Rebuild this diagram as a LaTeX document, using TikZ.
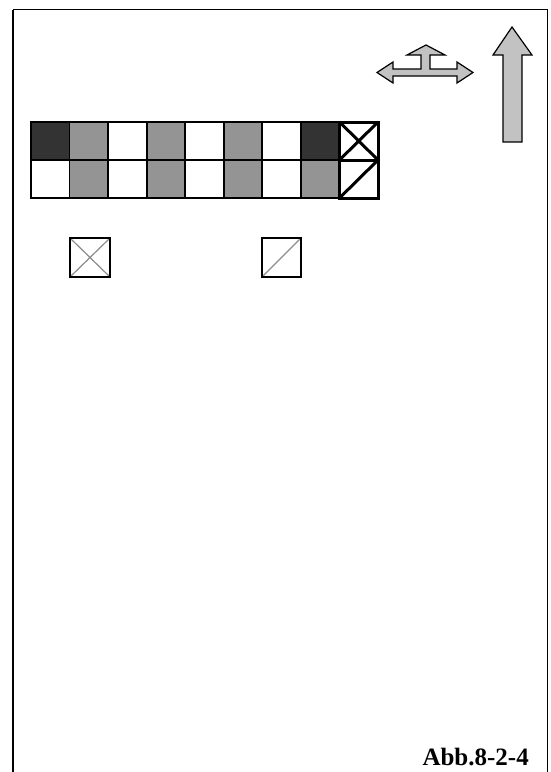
\documentclass[tikz,border=0pt]{standalone}
\usepackage{fontspec}
\setmainfont{Liberation Serif}
\begin{document}
\begin{tikzpicture}[x=1pt,y=-1pt,
  cell/.style={draw=black,line width=1.8pt},
  dk/.style={cell,fill=black!80},
  gr/.style={cell,fill=black!42},
  wh/.style={cell,fill=white},
  arr/.style={draw=black,line width=1.2pt,fill=black!24,line join=miter},
  thickbox/.style={draw=black,line width=3pt},
  smallbox/.style={draw=black,line width=1.5pt},
  diag/.style={draw=black!45,line width=1.2pt}]
\useasboundingbox (0,0) rectangle (551,772);
\fill[white] (0,0) rectangle (551,772);
% frame
\draw[line width=1pt] (13,772) -- (13,9.5) -- (547,9.5) -- (547,772);
\draw[line width=2pt] (13,772) -- (13,9.5);
% grid
\def\cw{38.55}
\foreach \i/\ta/\tb in {0/dk/wh,1/gr/gr,2/wh/wh,3/gr/gr,4/wh/wh,5/gr/gr,6/wh/wh,7/dk/gr}{
  \path[\ta] (31+\i*\cw,122) rectangle (31+\i*\cw+\cw,160);
  \path[\tb] (31+\i*\cw,160) rectangle (31+\i*\cw+\cw,198);
}
\coordinate (xa) at (339.5,122);
\coordinate (xb) at (378,160);
\coordinate (xc) at (339.5,160);
\coordinate (xd) at (378,122);
\coordinate (ya) at (339.5,198);
\coordinate (yb) at (378,160);
\draw[thickbox,fill=white] (xa) rectangle (378,198);
\draw[thickbox] (xc) -- (yb);
\draw[thickbox] (xa) -- (xb) (xc) -- (xd);
\draw[thickbox] (ya) -- (yb);
% small boxes
\coordinate (s1a) at (70,238);
\coordinate (s1b) at (110,277);
\draw[diag] (s1a) -- (s1b) (70,277) -- (110,238);
\draw[smallbox] (s1a) rectangle (s1b);
\coordinate (s2a) at (262,238);
\coordinate (s2b) at (301,277);
\draw[diag] (262,277) -- (301,238);
\draw[smallbox] (s2a) rectangle (s2b);
% cross arrow
\path[arr] (377,72.5) -- (393,62) -- (393,69) -- (421,69) -- (421,55) -- (407,55) -- (426,45)
  -- (445,55) -- (430,55) -- (430,69) -- (457,69) -- (457,62) -- (473,72.5)
  -- (457,83) -- (457,76) -- (393,76) -- (393,83) -- cycle;
% big up arrow
\path[arr] (512,27) -- (532,55) -- (522,55) -- (522,142) -- (503,142) -- (503,55) -- (493,55) -- cycle;
% label
\node[anchor=base east,inner sep=0pt,font=\bfseries\fontsize{25}{28}\selectfont] (lbl) at (529,765) {Abb.8-2-4};
\end{tikzpicture}
\end{document}
